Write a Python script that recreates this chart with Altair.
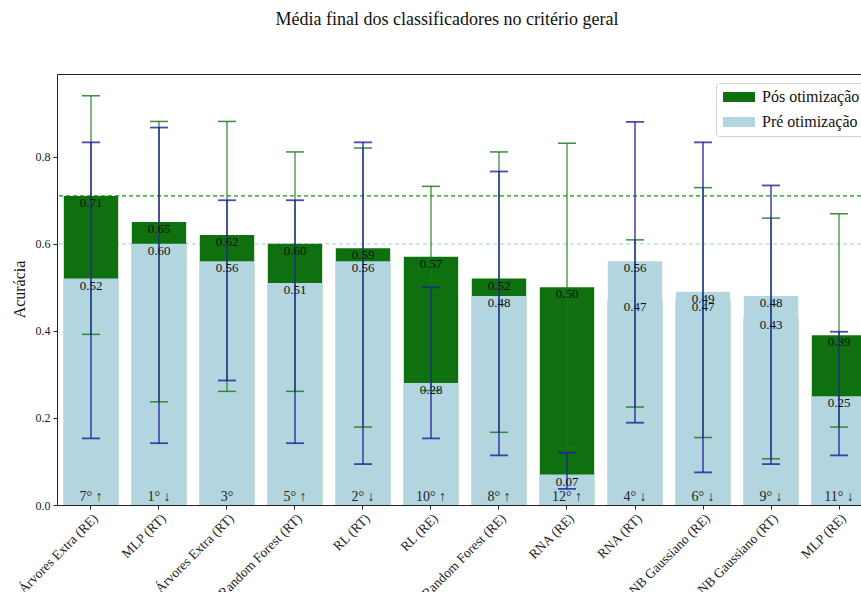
import altair as alt
import pandas as pd

FONT = "Liberation Serif"

names = ["Árvores Extra (RE)", "MLP (RT)", "Árvores Extra (RT)", "Random Forest (RT)",
         "RL (RT)", "RL (RE)", "Random Forest (RE)", "RNA (RE)", "RNA (RT)",
         "NB Gaussiano (RE)", "NB Gaussiano (RT)", "MLP (RE)"]
pos = [0.71, 0.65, 0.62, 0.60, 0.59, 0.57, 0.52, 0.50, 0.47, 0.47, 0.43, 0.39]
pre = [0.52, 0.60, 0.56, 0.51, 0.56, 0.28, 0.48, 0.07, 0.56, 0.49, 0.48, 0.25]
pos_lo = [0.392, 0.237, 0.261, 0.261, 0.179, 0.263, 0.167, 0.131, 0.225, 0.155, 0.106, 0.179]
pos_hi = [0.940, 0.881, 0.881, 0.811, 0.820, 0.732, 0.811, 0.831, 0.609, 0.729, 0.659, 0.669]
pre_lo = [0.153, 0.142, 0.286, 0.142, 0.094, 0.153, 0.114, 0.037, 0.189, 0.075, 0.094, 0.114]
pre_hi = [0.833, 0.867, 0.700, 0.700, 0.833, 0.500, 0.766, 0.120, 0.880, 0.833, 0.734, 0.398]
ranks = ["7° ↑", "1° ↓", "3°", "5° ↑", "2° ↓", "10° ↑", "8° ↑", "12° ↑", "4° ↓", "6° ↓", "9° ↓", "11° ↓"]

series = ["Pós otimização", "Pré otimização"]
GREEN = "#0e700e"
LIGHT = "#b2d5e0"

df = pd.DataFrame({
    "name": names, "pos": pos, "pre": pre,
    "pos_lo": pos_lo, "pos_hi": pos_hi, "pre_lo": pre_lo, "pre_hi": pre_hi,
    "rank": ranks,
})
line_pos = pd.DataFrame({"v": [max(pos)]})
line_pre = pd.DataFrame({"v": [max(pre)]})

base = alt.Chart(df)

X = alt.X("name:N", sort=names,
          scale=alt.Scale(range=[0, 816], paddingInner=0.2, paddingOuter=0.1),
          axis=alt.Axis(title=None, labelAngle=-45, labelFont=FONT, labelFontSize=13.5,
                        labelColor="#222", tickColor="#222", domainColor="#222",
                        tickSize=4, labelPadding=2, labelLimit=0))
YSCALE = alt.Scale(domain=[0, 0.99], nice=False, zero=True)
YAXIS = alt.Axis(title="Acurácia", values=[0, 0.2, 0.4, 0.6, 0.8], format=".1f",
                 grid=False, labelFont=FONT, labelFontSize=12, labelColor="#222",
                 tickColor="#222", domainColor="#222", tickSize=4, labelPadding=3,
                 titleFont=FONT, titleFontSize=16, titleFontWeight="normal",
                 titleColor="#111", titleAngle=-90, titleX=-46, titleY=215,
                 titleBaseline="top", titleAlign="center")


def yq(field):
    return alt.Y(field, type="quantitative", scale=YSCALE, axis=YAXIS, title="Acurácia")


cscale = alt.Scale(domain=series, range=[GREEN, LIGHT])
legend = alt.Legend(title=None, orient="none", legendX=659, legendY=9,
                    symbolType="M-1,-0.714L3.571,-0.714L3.571,0.714L-1,0.714Z",
                    symbolSize=196, symbolStrokeWidth=0, symbolOpacity=1,
                    labelFont=FONT, labelFontSize=16, labelColor="#111", labelOffset=24,
                    labelLimit=0, rowPadding=9, padding=6, strokeColor="#d0d0d0",
                    fillColor="white", cornerRadius=3)

dash_pos = alt.Chart(line_pos).mark_rule(strokeDash=[4, 3], strokeWidth=1.2, color="#0a9a0a").encode(
    y=yq("v"))
dash_pre = alt.Chart(line_pre).mark_rule(strokeDash=[4, 3], strokeWidth=1.2, color="#add8e6").encode(
    y=yq("v"))

bars_pos = base.transform_calculate(serie="'" + series[0] + "'").mark_bar().encode(
    x=X, y=yq("pos"), color=alt.Color("serie:N", scale=cscale, legend=legend))
bars_pre = base.transform_calculate(serie="'" + series[1] + "'").mark_bar().encode(
    x=X, y=yq("pre"), color=alt.Color("serie:N", scale=cscale, legend=legend))

G_ERR = "#1a7a1a"
B_ERR = "#1f1f9a"
err_pos = base.mark_rule(color=G_ERR, strokeWidth=1.3, opacity=0.85).encode(
    x=X, y=yq("pos_lo"), y2="pos_hi")
cap_pos_lo = base.mark_tick(color=G_ERR, size=18, thickness=1.5, opacity=0.85).encode(x=X, y=yq("pos_lo"))
cap_pos_hi = base.mark_tick(color=G_ERR, size=18, thickness=1.5, opacity=0.85).encode(x=X, y=yq("pos_hi"))
err_pre = base.mark_rule(color=B_ERR, strokeWidth=1.6, opacity=0.8).encode(
    x=X, y=yq("pre_lo"), y2="pre_hi")
cap_pre_lo = base.mark_tick(color=B_ERR, size=18, thickness=1.8, opacity=0.8).encode(x=X, y=yq("pre_lo"))
cap_pre_hi = base.mark_tick(color=B_ERR, size=18, thickness=1.8, opacity=0.8).encode(x=X, y=yq("pre_hi"))

lab_pos = base.mark_text(baseline="top", dy=1, font=FONT, fontSize=13, color="#111").encode(
    x=X, y=yq("pos"), text=alt.Text("pos:Q", format=".2f"))
lab_pre = base.mark_text(baseline="top", dy=1, font=FONT, fontSize=13, color="#111").encode(
    x=X, y=yq("pre"), text=alt.Text("pre:Q", format=".2f"))
lab_rank = base.mark_text(baseline="bottom", dy=-1, font=FONT, fontSize=14, color="#222").encode(
    x=X, y=alt.Y(datum=0, type="quantitative", scale=YSCALE, axis=YAXIS, title="Acurácia"),
    text="rank:N")

chart = alt.layer(
    dash_pos, dash_pre, bars_pos, bars_pre,
    err_pos, cap_pos_lo, cap_pos_hi,
    err_pre, cap_pre_lo, cap_pre_hi,
    lab_pos, lab_pre, lab_rank,
).properties(
    width=804, height=431,
    autosize=alt.AutoSizeParams(type="none"),
    padding={"left": 57, "top": 74, "right": 0, "bottom": 87},
    title=alt.Title("Média final dos classificadores no critério geral", font=FONT, fontSize=18,
                    fontWeight="normal", color="#111", anchor="middle", frame="group",
                    dx=-12, offset=45),
).configure(background="white").configure_view(stroke="#222", strokeWidth=1)

chart.save("out.html", embed_options={"renderer": "svg", "actions": False})
